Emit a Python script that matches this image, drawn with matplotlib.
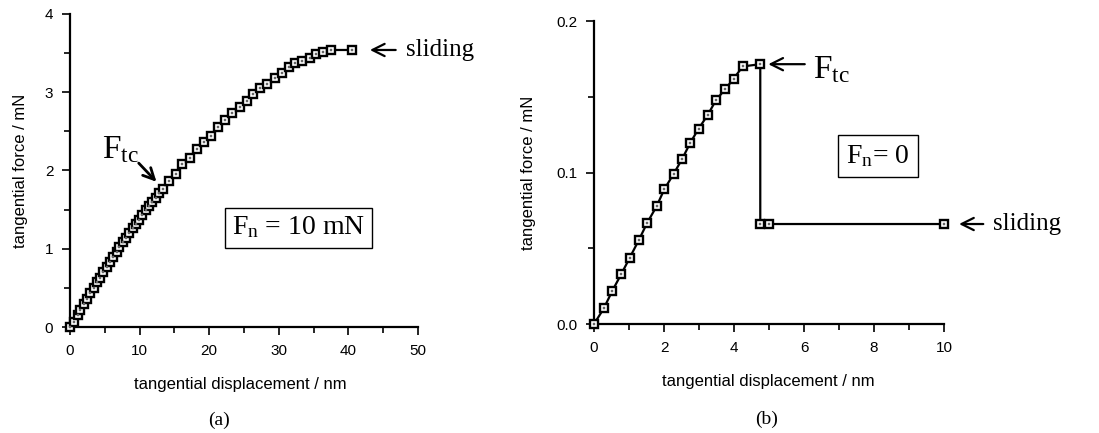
import matplotlib
matplotlib.use("Agg")
import matplotlib.pyplot as plt
from matplotlib.ticker import MultipleLocator

plt.rcParams['font.family'] = ['Liberation Sans', 'DejaVu Sans']
plt.rcParams['mathtext.fontset'] = 'custom'
plt.rcParams['mathtext.rm'] = 'Liberation Serif'
plt.rcParams['mathtext.it'] = 'Liberation Serif:italic'

# (a) normal load 10 mN
disp_a = [0.0, 0.6, 1.1, 1.5, 2.0, 2.5, 2.9, 3.4, 3.9, 4.3, 4.8, 5.3, 5.7, 6.2,
          6.7, 7.1, 7.6, 8.1, 8.5, 9.0, 9.5, 9.9, 10.4, 10.9, 11.3, 11.8, 12.3,
          12.8, 13.3, 14.2, 15.2, 16.1, 17.3, 18.3, 19.3, 20.3, 21.2, 22.3, 23.3,
          24.4, 25.4, 26.3, 27.3, 28.3, 29.5, 30.4, 31.4, 32.3, 33.3, 34.5, 35.4,
          36.3, 37.5, 40.5]
force_a = [0.00, 0.07, 0.15, 0.22, 0.29, 0.36, 0.43, 0.50, 0.57, 0.63, 0.70, 0.77,
           0.83, 0.90, 0.96, 1.02, 1.08, 1.14, 1.20, 1.26, 1.32, 1.37, 1.43, 1.49,
           1.54, 1.60, 1.65, 1.71, 1.76, 1.86, 1.96, 2.08, 2.16, 2.27, 2.36, 2.44,
           2.55, 2.64, 2.73, 2.81, 2.89, 2.98, 3.05, 3.10, 3.18, 3.24, 3.32, 3.38,
           3.40, 3.44, 3.49, 3.52, 3.54, 3.54]

# (b) zero normal load
disp_b = [0.0, 0.28, 0.52, 0.78, 1.02, 1.28, 1.52, 1.79, 2.01, 2.28, 2.52, 2.75,
          2.99, 3.25, 3.49, 3.75, 3.99, 4.25, 4.75, 4.75, 5.0, 10.0]
force_b = [0.0, 0.0103, 0.0218, 0.033, 0.0437, 0.0554, 0.0668, 0.0778, 0.089,
           0.0993, 0.109, 0.1196, 0.129, 0.138, 0.148, 0.155, 0.162, 0.170,
           0.1715, 0.066, 0.066, 0.066]

SERIF = 'Liberation Serif'

fig = plt.figure(figsize=(10.99, 4.33), dpi=100)
ax_a = fig.add_axes([0.0637, 0.2448, 0.3166, 0.7229])
ax_b = fig.add_axes([0.5405, 0.2517, 0.3185, 0.6998])


def draw_curve(ax, x, y):
    ax.plot(x, y, color='black', lw=1.6, zorder=2, clip_on=False)
    ax.plot(x, y, ls='none', marker='s', ms=5.4, mfc='white', mec='black',
            mew=1.7, zorder=3, clip_on=False)
    ax.plot(x, y, ls='none', marker='s', ms=1.5, mfc='#666666', mec='#666666',
            mew=0.3, zorder=4, clip_on=False)


def style_axes(ax):
    for side in ('top', 'right'):
        ax.spines[side].set_visible(False)
    for side in ('left', 'bottom'):
        ax.spines[side].set_linewidth(1.6)
    ax.tick_params(which='both', direction='out', width=1.2, labelsize=11,
                   colors='black')
    ax.tick_params(which='major', length=6, pad=6)
    ax.tick_params(which='minor', length=4)


def ftc_label(ax, x, y, va):
    ax.text(x, y, r'$\mathrm{F_{tc}}$', fontsize=24, family=SERIF,
            ha='left', va=va)


draw_curve(ax_a, disp_a, force_a)
ax_a.set_xlim(0, 50)
ax_a.set_ylim(0, 4)
ax_a.xaxis.set_major_locator(MultipleLocator(10))
ax_a.xaxis.set_minor_locator(MultipleLocator(5))
ax_a.yaxis.set_major_locator(MultipleLocator(1))
ax_a.yaxis.set_minor_locator(MultipleLocator(0.5))
style_axes(ax_a)
ax_a.set_xlabel('tangential displacement / nm', fontsize=12)
ax_a.set_ylabel('tangential force / mN', fontsize=12)
ax_a.xaxis.set_label_coords(0.49, -0.16)
ax_a.yaxis.set_label_coords(-0.12, 0.5)

ax_a.annotate('', xy=(12.7, 1.83), xytext=(9.6, 2.12),
              arrowprops=dict(arrowstyle='->', lw=2.0, color='black',
                              mutation_scale=20),
              annotation_clip=False)
ftc_label(ax_a, 4.6, 2.16, 'baseline')
ax_a.annotate('', xy=(42.7, 3.54), xytext=(47.2, 3.54),
              arrowprops=dict(arrowstyle='->', lw=1.6, color='black',
                              mutation_scale=22),
              annotation_clip=False)
ax_a.text(48.3, 3.54, 'sliding', fontsize=18, family=SERIF, ha='left',
          va='center')
ax_a.text(32.9, 1.27, r'$\mathrm{F_{n}}$ = 10 mN', fontsize=20, family=SERIF,
          ha='center', va='center',
          bbox=dict(boxstyle='square,pad=0.25', fc='white', ec='black', lw=1.0))

draw_curve(ax_b, disp_b, force_b)
ax_b.set_xlim(0, 10)
ax_b.set_ylim(0, 0.2)
ax_b.xaxis.set_major_locator(MultipleLocator(2))
ax_b.xaxis.set_minor_locator(MultipleLocator(1))
ax_b.yaxis.set_major_locator(MultipleLocator(0.1))
ax_b.yaxis.set_minor_locator(MultipleLocator(0.05))
ax_b.yaxis.set_major_formatter(plt.FormatStrFormatter('%.1f'))
style_axes(ax_b)
ax_b.set_xlabel('tangential displacement / nm', fontsize=12)
ax_b.set_ylabel('tangential force / mN', fontsize=12)
ax_b.xaxis.set_label_coords(0.497, -0.165)
ax_b.yaxis.set_label_coords(-0.165, 0.5)

ax_b.annotate('', xy=(4.9, 0.1715), xytext=(6.1, 0.1715),
              arrowprops=dict(arrowstyle='->', lw=1.6, color='black',
                              mutation_scale=22),
              annotation_clip=False)
ftc_label(ax_b, 6.25, 0.168, 'center')
ax_b.annotate('', xy=(10.35, 0.066), xytext=(11.2, 0.066),
              arrowprops=dict(arrowstyle='->', lw=1.6, color='black',
                              mutation_scale=22),
              annotation_clip=False)
ax_b.text(11.4, 0.066, 'sliding', fontsize=18, family=SERIF, ha='left',
          va='center')
ax_b.text(8.1, 0.111, r'$\mathrm{F_{n}}$= 0', fontsize=20, family=SERIF,
          ha='center', va='center',
          bbox=dict(boxstyle='square,pad=0.3', fc='white', ec='black', lw=1.0))

fig.text(219 / 1099, 1 - 420 / 433, '(a)', fontsize=14, family=SERIF,
         ha='center', va='center')
fig.text(767 / 1099, 1 - 419 / 433, '(b)', fontsize=14, family=SERIF,
         ha='center', va='center')

fig.savefig('out.png', dpi=100)
